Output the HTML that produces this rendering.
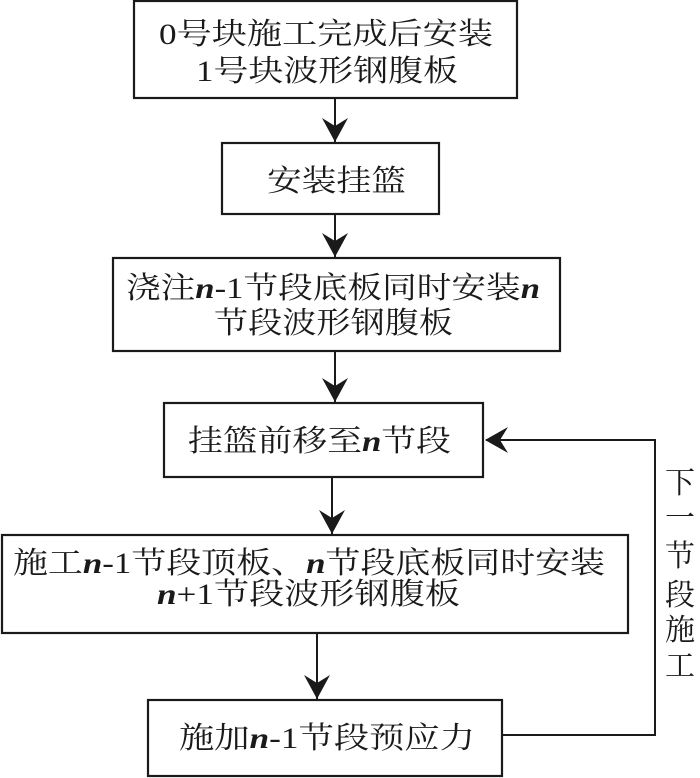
<!DOCTYPE html>
<html><head><meta charset="utf-8"><style>
html,body{margin:0;padding:0;background:#fff;}
svg{display:block;}
text{font-family:"Liberation Serif","Noto Serif CJK SC",serif;font-size:30px;fill:#1a1a1a;}
</style></head><body>
<svg width="700" height="778" viewBox="0 0 700 778" xmlns="http://www.w3.org/2000/svg">
<defs><marker id="a" markerWidth="18" markerHeight="24" refX="9" refY="23" orient="auto" markerUnits="userSpaceOnUse"><path d="M0,0 L9,23 L18,0 L9,8 Z" fill="#1a1a1a"/></marker></defs>
<g fill="none" stroke="#1a1a1a" stroke-width="2.2">
<rect x="134" y="1" width="383" height="97"/>
<rect x="222" y="143" width="217" height="71"/>
<rect x="113" y="258" width="447" height="93"/>
<rect x="164" y="403" width="319" height="74"/>
<rect x="2" y="535" width="626" height="98"/>
<rect x="148" y="700" width="354" height="76"/>
</g>
<g stroke="#1a1a1a" stroke-width="2" fill="none">
<line x1="335" y1="98" x2="335" y2="142"/>
<path d="M322,118 L335,142 L348,118 L335,126 Z" fill="#1a1a1a" stroke="none"/>
<line x1="335" y1="214" x2="335" y2="257"/>
<path d="M322,233 L335,257 L348,233 L335,241 Z" fill="#1a1a1a" stroke="none"/>
<line x1="335" y1="351" x2="335" y2="402"/>
<path d="M322,378 L335,402 L348,378 L335,386 Z" fill="#1a1a1a" stroke="none"/>
<line x1="332" y1="477" x2="332" y2="534"/>
<path d="M319,510 L332,534 L345,510 L332,518 Z" fill="#1a1a1a" stroke="none"/>
<line x1="317" y1="633" x2="317" y2="699"/>
<path d="M304,675 L317,699 L330,675 L317,683 Z" fill="#1a1a1a" stroke="none"/>
<polyline points="502,735 655,735 655,440 486,440"/>
<path d="M508,427 L485,440 L508,453 L500,440 Z" fill="#1a1a1a" stroke="none"/>
</g>
<text x="159" y="44" textLength="334" lengthAdjust="spacingAndGlyphs">0号块施工完成后安装</text>
<text x="196" y="81" textLength="262" lengthAdjust="spacingAndGlyphs">1号块波形钢腹板</text>
<text x="267" y="191" textLength="139" lengthAdjust="spacingAndGlyphs">安装挂篮</text>
<text x="126" y="298" textLength="414" lengthAdjust="spacingAndGlyphs">浇注<tspan font-style="italic" font-weight="bold">n</tspan>-1节段底板同时安装<tspan font-style="italic" font-weight="bold">n</tspan></text>
<text x="214" y="333" textLength="239" lengthAdjust="spacingAndGlyphs">节段波形钢腹板</text>
<text x="188" y="451" textLength="263" lengthAdjust="spacingAndGlyphs">挂篮前移至<tspan font-style="italic" font-weight="bold">n</tspan>节段</text>
<text x="13" y="573" textLength="592" lengthAdjust="spacingAndGlyphs">施工<tspan font-style="italic" font-weight="bold">n</tspan>-1节段顶板、<tspan font-style="italic" font-weight="bold">n</tspan>节段底板同时安装</text>
<text x="157" y="604" textLength="303" lengthAdjust="spacingAndGlyphs"><tspan font-style="italic" font-weight="bold">n</tspan>+1节段波形钢腹板</text>
<text x="179" y="748" textLength="296" lengthAdjust="spacingAndGlyphs">施加<tspan font-style="italic" font-weight="bold">n</tspan>-1节段预应力</text>
<g text-anchor="middle">
<text x="680" y="493">下</text>
<text x="680" y="528">一</text>
<text x="680" y="566">节</text>
<text x="680" y="605">段</text>
<text x="680" y="640">施</text>
<text x="680" y="676">工</text>
</g>
</svg>
</body></html>
